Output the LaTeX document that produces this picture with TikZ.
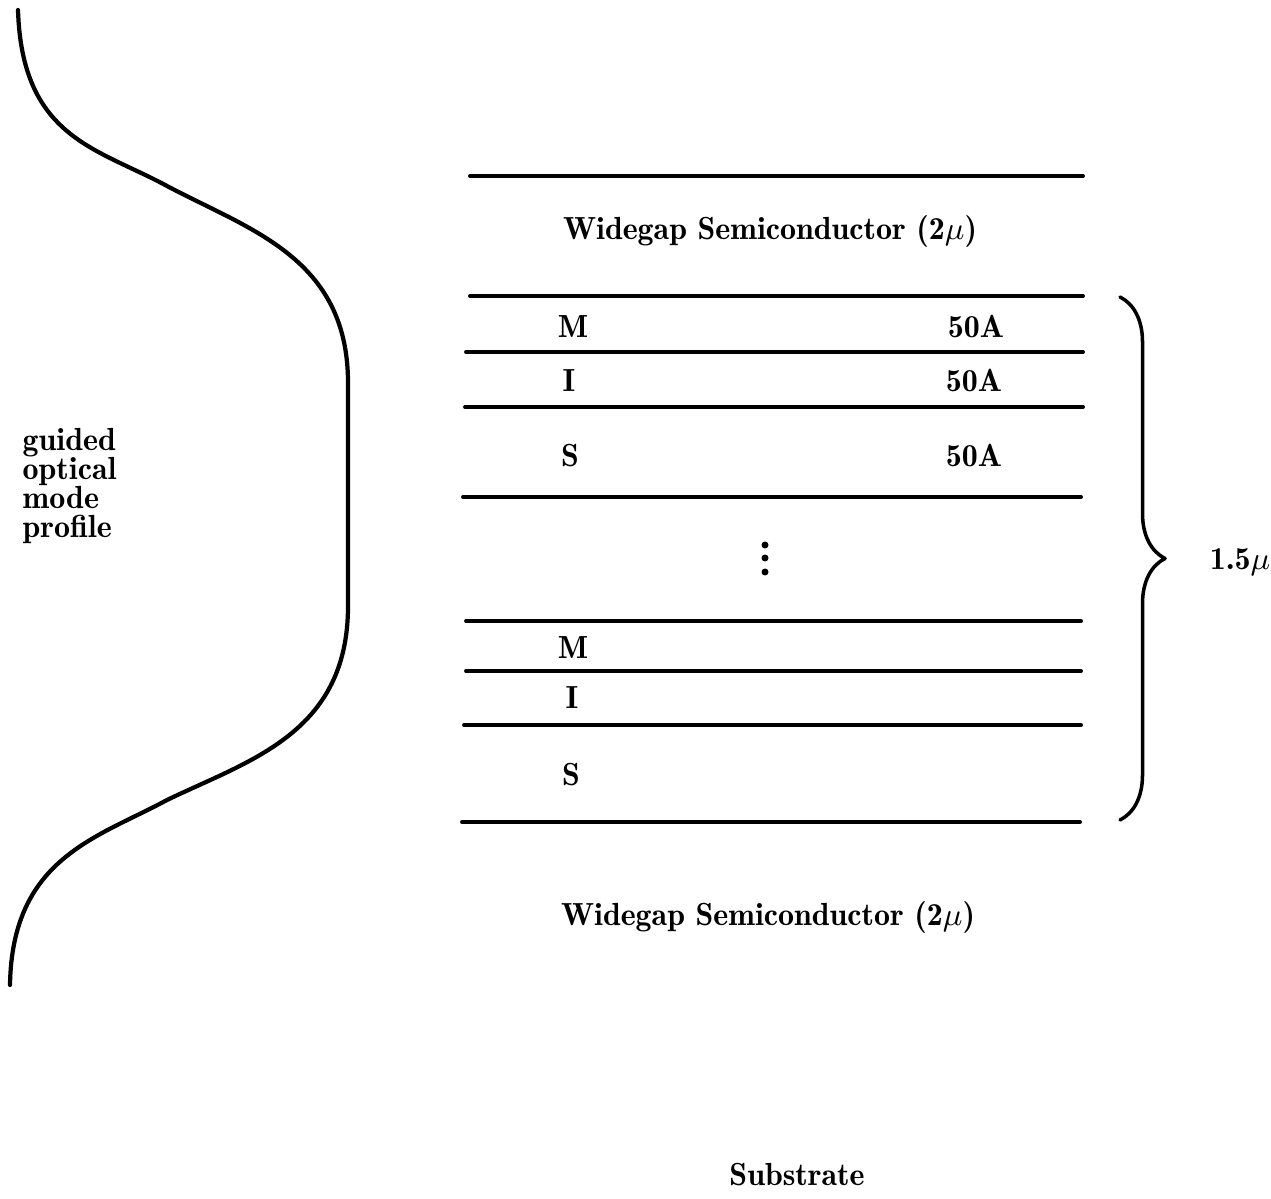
\documentclass[tikz,border=0pt]{standalone}
\usepackage{amsfonts,amsmath,amssymb}
\usepackage{tikz}
\usetikzlibrary{decorations.pathreplacing}
\newcommand\profilefont{\fontseries{b}\fontsize{9.1}{8.2}\selectfont\setlength{\lineskiplimit}{-10pt}}
\tikzset{
  every picture/.style={line join=round, line cap=round},
  layer/.style={line width=1.1pt},
  lbl/.style={font=\fontseries{b}\fontsize{9.1}{10}\selectfont, inner sep=0pt, anchor=base},
}

\begin{document}
\begin{tikzpicture}
\useasboundingbox(0,0) rectangle (12.71,11.98);
% mode profile
\draw[line width=1.2pt](0.18,11.88)..controls(0.22,10.6)and(0.97,10.50)..(1.67,10.12)
..controls(2.5,9.68)and(3.48,9.4)..(3.48,8.15)--(3.48,5.92)
..controls(3.48,4.65)and(2.5,4.38)..(1.67,3.98)
..controls(0.97,3.6)and(0.12,3.4)..(0.10,2.13);
\draw(0.22,7.70)node[lbl,anchor=north west,align=left,font=\profilefont](prof){guided\\optical\\mode\\profile};
% layers
\draw[layer](4.70,10.22)--(10.83,10.22)
(4.70,9.02)--(10.83,9.02)
(4.66,8.46)--(10.83,8.46)
(4.65,7.91)--(10.83,7.91)
(4.63,7.01)--(10.81,7.01)
(4.66,5.77)--(10.81,5.77)
(4.66,5.27)--(10.81,5.27)
(4.64,4.73)--(10.81,4.73)
(4.62,3.76)--(10.80,3.76);
\draw(7.70,9.58)node[lbl](wtop){Widegap Semiconductor (2$\mu$)}
(7.68,2.73)node[lbl](wbot){Widegap Semiconductor (2$\mu$)}
(7.97,0.13)node[lbl](sub){Substrate};
\draw(5.73,8.60)node[lbl](m1){M}
(5.69,8.06)node[lbl](i1){I}
(5.70,7.31)node[lbl](s1){S}
(9.76,8.60)node[lbl](tm){50A}
(9.74,8.06)node[lbl](ti){50A}
(9.74,7.31)node[lbl](ts){50A};
\fill(7.65,6.53)circle(0.035)(7.65,6.40)circle(0.035)(7.65,6.26)circle(0.035);
\draw(5.73,5.39)node[lbl](m2){M}
(5.72,4.89)node[lbl](i2){I}
(5.71,4.12)node[lbl](s2){S};
% stack thickness
\draw[line width=1pt,decorate,decoration={brace,amplitude=0.45cm}](11.20,9.01)--(11.20,3.78);
\draw(12.40,6.28)node[lbl](thk){1.5$\mu$};
\end{tikzpicture}
\end{document}
